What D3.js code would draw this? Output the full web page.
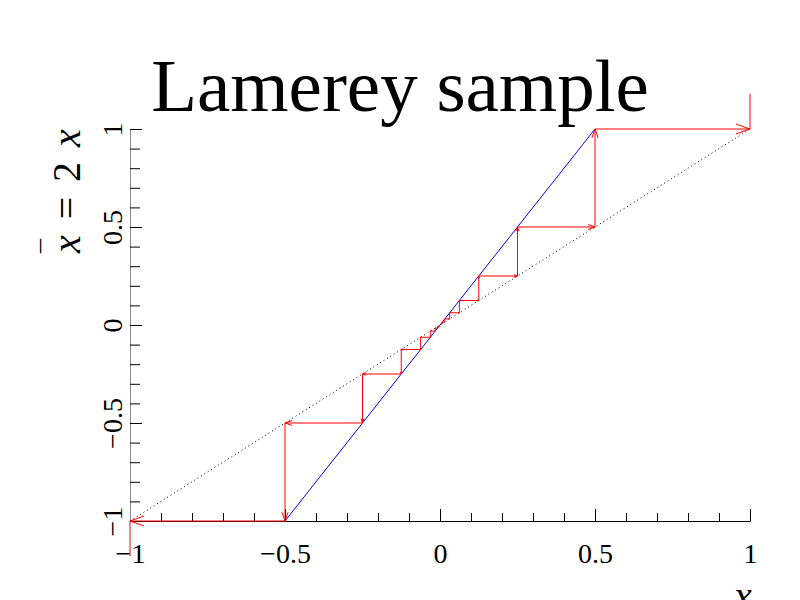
<!DOCTYPE html>
<html>
<head>
<meta charset="utf-8">
<script src="https://cdn.jsdelivr.net/npm/d3@7"></script>
<style>
  body { margin: 0; background: #fff; }
  text { font-family: "Liberation Serif", "Times New Roman", serif; }
</style>
</head>
<body>
<svg width="800" height="600"></svg>
<script>
// 軸の目盛り
const xMajorTicks = [-1, -0.5, 0, 0.5, 1];
const xMinorTicks = [-0.9, -0.8, -0.7, -0.6, -0.4, -0.3, -0.2, -0.1, 0.1, 0.2, 0.3, 0.4, 0.6, 0.7, 0.8, 0.9];
const yMajorTicks = [-1, -0.5, 0, 0.5, 1];
const yMinorTicks = [-0.9, -0.8, -0.7, -0.6, -0.4, -0.3, -0.2, -0.1, 0.1, 0.2, 0.3, 0.4, 0.6, 0.7, 0.8, 0.9];

// 対角線 y = x と写像 x̄ = 2x
const diagX = [-1, 1];
const diagY = [-1, 1];
const mapX = [-0.5, 0.5];
const mapY = [-1, 1];

// ラメレー図の軌道（正側と負側）
const orbitPos = [0.00390625, 0.0078125, 0.015625, 0.03125, 0.0625, 0.125, 0.25, 0.5, 1, 2];
const orbitNeg = [-0.00390625, -0.0078125, -0.015625, -0.03125, -0.0625, -0.125, -0.25, -0.5, -1, -2];

const svg = d3.select("svg");
const x = d3.scaleLinear().domain([-1, 1]).range([130, 750]);
const y = d3.scaleLinear().domain([-1, 1]).range([521, 129]);

// タイトル
svg.append("text")
  .attr("x", 400).attr("y", 111)
  .attr("text-anchor", "middle")
  .style("font-size", "75px")
  .text("Lamerey sample");

// X軸
const fmt = d3.format("~g");
const xAxis = svg.append("g").attr("transform", "translate(0,521)")
  .call(d3.axisBottom(x).tickValues(xMajorTicks).tickSizeInner(-12).tickSizeOuter(0)
    .tickPadding(22).tickFormat(fmt));
xAxis.append("g")
  .call(d3.axisBottom(x).tickValues(xMinorTicks).tickSizeInner(-8).tickSizeOuter(0).tickFormat(""))
  .select(".domain").remove();
xAxis.selectAll("text").style("font-size", "28px").attr("fill", "#000");
xAxis.selectAll("line").attr("stroke", "#000");
xAxis.select(".domain").attr("stroke", "#000");

// Y軸
const yAxis = svg.append("g").attr("transform", "translate(130,0)")
  .call(d3.axisLeft(y).tickValues(yMajorTicks).tickSizeInner(-12).tickSizeOuter(0).tickFormat(fmt));
yAxis.append("g")
  .call(d3.axisLeft(y).tickValues(yMinorTicks).tickSizeInner(-10).tickSizeOuter(0).tickFormat(""))
  .select(".domain").remove();
yAxis.select(".domain").attr("stroke", "#888");
yAxis.selectAll("line").attr("stroke", "#000");
yAxis.selectAll("text")
  .attr("x", null).attr("dy", null)
  .attr("transform", "translate(-8,0) rotate(-90)")
  .attr("text-anchor", "middle")
  .attr("fill", "#000")
  .style("font-size", "28px");

// 軸ラベル
svg.append("text")
  .attr("x", 743).attr("y", 609)
  .attr("text-anchor", "middle")
  .style("font-size", "40px").style("font-style", "italic")
  .text("x");

const yl = svg.append("text")
  .attr("transform", "translate(80,0) rotate(-90)")
  .attr("text-anchor", "middle")
  .style("font-size", "40px");
yl.append("tspan").attr("x", -244).attr("y", 0).style("font-style", "italic").text("x");
yl.append("tspan").attr("x", -246).attr("y", -19).style("font-size", "28px").text("¯");
yl.append("tspan").attr("x", -208).attr("y", 0).text("=");
yl.append("tspan").attr("x", -172).attr("y", 0).text("2");
yl.append("tspan").attr("x", -138).attr("y", 0).style("font-style", "italic").text("x");

// 描画範囲のクリップ
svg.append("clipPath").attr("id", "clip")
  .append("rect")
  .attr("x", x(-1) - 2).attr("y", y(1.18))
  .attr("width", x(1) - x(-1) + 4).attr("height", y(-1.18) - y(1.18));
const plot = svg.append("g").attr("clip-path", "url(#clip)");

// 対角線（点線）
plot.append("line")
  .attr("x1", x(diagX[0])).attr("y1", y(diagY[0]))
  .attr("x2", x(diagX[1])).attr("y2", y(diagY[1]))
  .attr("stroke", "#000").attr("stroke-width", 1).attr("stroke-dasharray", "1,3");

// 写像の直線（青）
plot.append("line")
  .attr("x1", x(mapX[0])).attr("y1", y(mapY[0]))
  .attr("x2", x(mapX[1])).attr("y2", y(mapY[1]))
  .attr("stroke", "#0000ff").attr("stroke-width", 1);

// 軌道から線分を作る
function segments(orbit) {
  const segs = [];
  for (let i = 0; i < orbit.length - 1; i++) {
    segs.push([orbit[i], orbit[i], orbit[i], orbit[i + 1]]);          // 縦
    if (i < orbit.length - 2) {
      segs.push([orbit[i], orbit[i + 1], orbit[i + 1], orbit[i + 1]]); // 横
    }
  }
  return segs;
}
const segs = segments(orbitPos).concat(segments(orbitNeg));

plot.selectAll(".web").data(segs).enter().append("line")
  .attr("class", "web")
  .attr("x1", d => x(d[0])).attr("y1", d => y(d[1]))
  .attr("x2", d => x(d[2])).attr("y2", d => y(d[3]))
  .attr("stroke", "#ff0000").attr("stroke-width", 1);

// 矢印
plot.selectAll(".arrow").data(segs).enter().append("path")
  .attr("class", "arrow")
  .attr("d", d => {
    const x1 = x(d[0]), y1 = y(d[1]), x2 = x(d[2]), y2 = y(d[3]);
    const len = Math.hypot(x2 - x1, y2 - y1);
    if (len < 0.5) return "";
    const ux = (x2 - x1) / len, uy = (y2 - y1) / len;
    const L = len * 0.09, w = L * 0.35;
    const bx = x2 - ux * L, by = y2 - uy * L;
    return `M${bx - uy * w},${by + ux * w}L${x2},${y2}L${bx + uy * w},${by - ux * w}`;
  })
  .attr("fill", "none")
  .attr("stroke", "#ff0000").attr("stroke-width", 1);
</script>
</body>
</html>
